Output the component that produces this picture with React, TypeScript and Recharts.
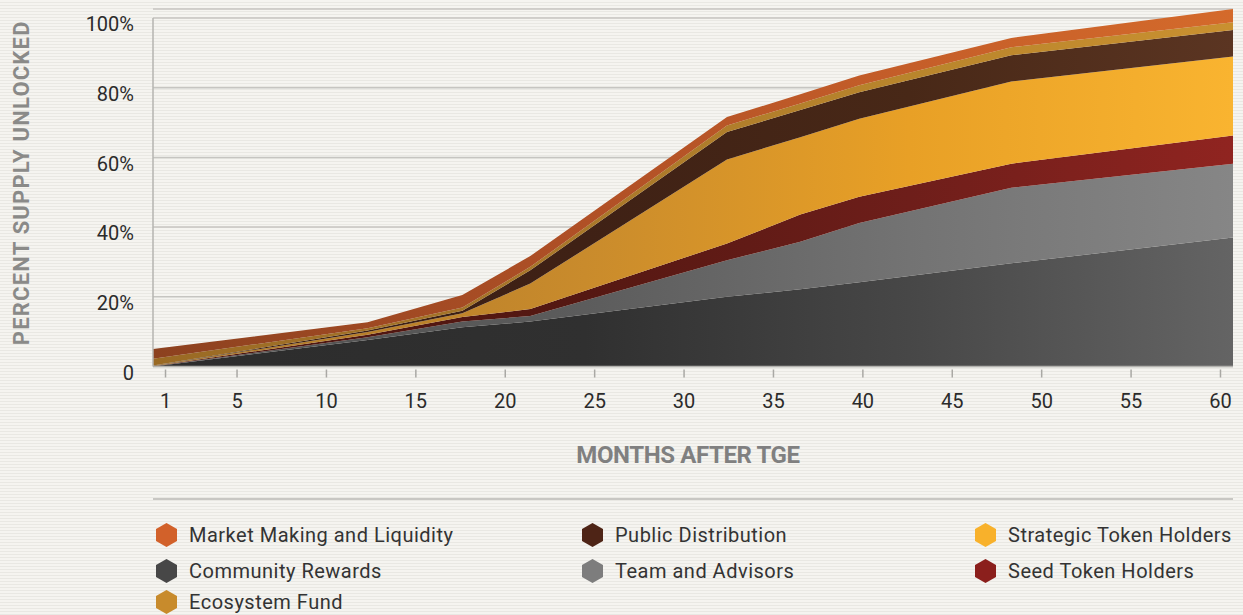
import { AreaChart, Area, XAxis, YAxis, CartesianGrid, ReferenceLine, Label } from 'recharts';

// months after TGE where the curves change slope
const months = [0.3, 12.3, 17.6, 21.4, 32.4, 36.5, 39.8, 48.3, 60.7];

// percent of supply unlocked, per allocation (stacked bottom -> top)
const communityRewards = [0, 7.6, 11.3, 12.9, 20.0, 22.2, 24.2, 29.6, 37.0];
const teamAdvisors = [0, 0.8, 1.6, 1.6, 10.5, 13.6, 17.0, 21.7, 21.2];
const seedHolders = [0.1, 0.7, 1.3, 2.0, 4.8, 7.8, 7.5, 6.9, 8.1];
const strategicHolders = [0.1, 0.8, 1.1, 7.3, 24.1, 22.2, 22.4, 23.6, 22.7];
const publicDistribution = [0.1, 0.4, 0.7, 3.8, 7.9, 7.8, 7.6, 7.5, 7.6];
const ecosystemFund = [1.9, 0.7, 0.9, 1.0, 1.9, 1.9, 2.0, 2.3, 2.2];
const marketMaking = [2.8, 1.7, 3.6, 3.1, 2.4, 2.6, 2.8, 2.7, 3.8];

const monthTicks = [1, 5, 10, 15, 20, 25, 30, 35, 40, 45, 50, 55, 60];
const percentTicks = [0, 20, 40, 60, 80, 100];

const series = [
  { key: 'community', name: 'Community Rewards', values: communityRewards, swatch: '#474747', stops: ['#2c2c2c', '#303030', '#474747', '#646464'] },
  { key: 'team', name: 'Team and Advisors', values: teamAdvisors, swatch: '#7d7d7d', stops: ['#4f4f4f', '#5c5c5c', '#737373', '#868686'] },
  { key: 'seed', name: 'Seed Token Holders', values: seedHolders, swatch: '#8b1f1c', stops: ['#4c1510', '#551812', '#6e1e1a', '#902420'] },
  { key: 'strategic', name: 'Strategic Token Holders', values: strategicHolders, swatch: '#f8b12b', stops: ['#a87428', '#c98b2c', '#e8a026', '#f9b430'] },
  { key: 'public', name: 'Public Distribution', values: publicDistribution, swatch: '#4e2416', stops: ['#3a1f14', '#3f2115', '#482817', '#5b3522'] },
  { key: 'ecosystem', name: 'Ecosystem Fund', values: ecosystemFund, swatch: '#c88b2c', stops: ['#9a6a24', '#a9782a', '#b9852c', '#c99030'] },
  { key: 'market', name: 'Market Making and Liquidity', values: marketMaking, swatch: '#d2612a', stops: ['#8c411f', '#b05026', '#c55e29', '#d46a2b'] },
];

const legendOrder = ['market', 'public', 'strategic', 'community', 'team', 'seed', 'ecosystem'];

const data = months.map((m, i) => {
  const row: any = { month: m };
  series.forEach(s => { row[s.key] = s.values[i]; });
  return row;
});

const MonthTick = ({ x, y, payload }: any) => (
  <g>
    <line x1={x} x2={x} y1={y + 3} y2={y + 11} stroke="#a9a8a4" strokeWidth={1.5} />
    <text x={x} y={y + 41} textAnchor="middle" fill="#2b2b2b" fontSize={20} fontFamily="Roboto">
      {payload.value}
    </text>
  </g>
);

const Hexagon = ({ color }: { color: string }) => (
  <svg width={21} height={24} viewBox="0 0 21 24">
    <polygon points="10.5,0 21,6 21,18 10.5,24 0,18 0,6" fill={color} />
  </svg>
);

export default function App() {
  return (
    <div style={{
      position: 'absolute', left: 0, top: 0, width: 1243, height: 615, overflow: 'hidden',
      background: 'repeating-linear-gradient(180deg, #f5f4f0 0px, #f5f4f0 2px, #e9e8e3 2px, #e9e8e3 3px)',
      fontFamily: 'Roboto',
    }}>
      <AreaChart width={1243} height={470} data={data} margin={{ top: 9, right: 10, bottom: 3.5, left: 0 }}>
        <defs>
          {series.map(s => (
            <linearGradient key={s.key} id={`grad-${s.key}`} x1="0" y1="0" x2="1" y2="0">
              <stop offset="0%" stopColor={s.stops[0]} />
              <stop offset="40%" stopColor={s.stops[1]} />
              <stop offset="70%" stopColor={s.stops[2]} />
              <stop offset="100%" stopColor={s.stops[3]} />
            </linearGradient>
          ))}
        </defs>
        <CartesianGrid vertical={false} stroke="#c6c5c1" strokeWidth={1.5} />
        <XAxis
          dataKey="month"
          type="number"
          domain={[0.3, 60.7]}
          ticks={monthTicks}
          interval={0}
          height={100}
          tickSize={0}
          tickMargin={0}
          tickLine={false}
          tick={<MonthTick />}
          stroke="#b3b2ae"
          strokeWidth={1.5}
        >
          <Label content={({ viewBox }: any) => (
            <text x={viewBox.x + viewBox.width / 2 - 5} y={viewBox.y + 96} textAnchor="middle"
              fill="#808080" fontSize={24} fontWeight={700} fontFamily="Roboto" letterSpacing={-0.4}>
              MONTHS AFTER TGE
            </text>
          )} />
        </XAxis>
        <YAxis
          type="number"
          domain={[0, 102.6]}
          allowDataOverflow
          ticks={percentTicks}
          width={153}
          axisLine={false}
          tickLine={false}
          tickSize={6}
          tickMargin={13}
          tickFormatter={(v: number) => (v === 0 ? '0' : `${v}%`)}
          tick={{ fill: '#2b2b2b', fontSize: 20, fontFamily: 'Roboto', dy: 6 }}
        >
          <Label content={({ viewBox }: any) => {
            const cy = viewBox.y + viewBox.height / 2 - 5;
            return (
              <text x={21} y={cy} transform={`rotate(-90 21 ${cy})`} textAnchor="middle" dominantBaseline="central"
                fill="#8a8a88" fontSize={22} fontWeight={700} fontFamily="Roboto" letterSpacing={1.2}>
                PERCENT SUPPLY UNLOCKED
              </text>
            );
          }} />
        </YAxis>
        {series.map(s => (
          <Area
            key={s.key}
            type="linear"
            dataKey={s.key}
            name={s.name}
            stackId="supply"
            stroke="none"
            fill={`url(#grad-${s.key})`}
            fillOpacity={1}
            isAnimationActive={false}
          />
        ))}
        <ReferenceLine segment={[{ x: 0.3, y: 0 }, { x: 0.3, y: 100 }]} stroke="#b5b4b0" strokeWidth={1.5} />
      </AreaChart>

      <div style={{ position: 'absolute', left: 153, top: 498, width: 1080, height: 2, background: '#c8c7c3' }} />

      {legendOrder.map((key, i) => {
        const s = series.find(x => x.key === key)!;
        const colLeft = [156, 582, 975][i % 3];
        const rowTop = [523, 559, 590][Math.floor(i / 3)];
        return (
          <div key={key} style={{ position: 'absolute', left: colLeft, top: rowTop, height: 24, display: 'flex', alignItems: 'center' }}>
            <Hexagon color={s.swatch} />
            <span style={{ marginLeft: 12, fontSize: 20, color: '#333', whiteSpace: 'nowrap', lineHeight: '22px', letterSpacing: 0.5 }}>{s.name}</span>
          </div>
        );
      })}
    </div>
  );
}
